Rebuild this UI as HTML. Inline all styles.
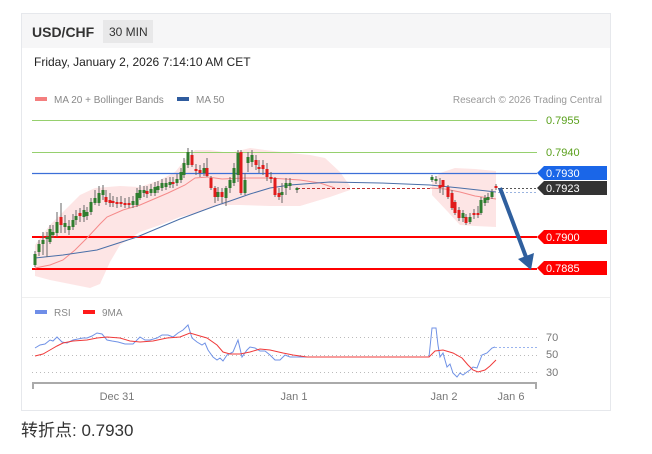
<!DOCTYPE html>
<html><head><meta charset="utf-8">
<style>
html,body{margin:0;padding:0;background:#fff;}
body{width:652px;height:454px;overflow:hidden;font-family:"Liberation Sans","Noto Sans CJK SC",sans-serif;}
svg{display:block;}
text{font-family:"Liberation Sans","Noto Sans CJK SC",sans-serif;}
.g{fill:#2f7d2f}
.r{fill:#e01c1c}
</style></head>
<body>
<svg width="652" height="454" viewBox="0 0 652 454" xmlns="http://www.w3.org/2000/svg">
<!-- card -->
<rect x="21.5" y="13.5" width="589" height="397" fill="#fff" stroke="#e6e8ec" stroke-width="1"/>
<rect x="22" y="14" width="588" height="34" fill="#f6f6f7"/>
<text x="32" y="37" font-size="14" font-weight="bold" fill="#333">USD/CHF</text>
<rect x="103" y="20" width="50" height="23" fill="#e8e8e9"/>
<text x="109" y="36" font-size="12" fill="#333">30 MIN</text>
<text x="34" y="66" font-size="12" fill="#222">Friday, January 2, 2026 7:14:10 AM CET</text>

<!-- legend -->
<rect x="35" y="97" width="12" height="4" fill="#f47f7f"/>
<text x="54" y="103" font-size="10" fill="#888">MA 20 + Bollinger Bands</text>
<rect x="177" y="97" width="12" height="4" fill="#2f5c9e"/>
<text x="196" y="103" font-size="10" fill="#888">MA 50</text>
<text x="602" y="103" font-size="10" fill="#999" text-anchor="end">Research © 2026 Trading Central</text>

<!-- bollinger bands -->
<path d="M35,245 L50,225 L65,210 L80,195 L95,188 L120,186 L140,187 L160,180 L175,172 L185,160 L195,150 L210,150 L230,153 L250,148 L265,150 L290,153 L310,155 L325,158 L340,172 L350,186 L350,190 L330,197 L300,206 L270,206 L240,205 L220,205 L200,212 L180,217 L160,225 L140,232 L120,245 L110,262 L100,284 L90,288 L70,284 L50,280 L35,276 Z" fill="#fde5e5"/>
<path d="M432,182 L440,173 L455,168 L475,169 L496,171 L496,227 L475,226 L460,225 L448,212 L432,195 Z" fill="#fde5e5"/>

<!-- horizontal levels -->
<line x1="32" y1="120.5" x2="537" y2="120.5" stroke="#96d06e" stroke-width="1"/>
<line x1="32" y1="152.5" x2="537" y2="152.5" stroke="#96d06e" stroke-width="1"/>
<line x1="32" y1="173.5" x2="537" y2="173.5" stroke="#3c6fd8" stroke-width="1.2"/>
<line x1="32" y1="237" x2="537" y2="237" stroke="#ff0000" stroke-width="2"/>
<line x1="32" y1="269" x2="537" y2="269" stroke="#ff0000" stroke-width="2"/>

<!-- MA20 -->
<path d="M35,268 L50,265 L63,260 L75,250 L88,237 L100,224 L107,217 L123,210 L140,205 L168,193 L185,185 L195,178 L208,177 L222,179 L245,178 L270,178 L300,180 L320,183 L335,188" fill="none" stroke="#f58a8a" stroke-width="1"/>
<line x1="297" y1="188.5" x2="430" y2="188.5" stroke="#c03030" stroke-width="1" stroke-dasharray="3,2"/>
<path d="M430,188 L445,189 L460,192 L475,196 L496,199" fill="none" stroke="#f58a8a" stroke-width="1"/>
<!-- MA50 -->
<path d="M35,258 L63,255 L97,250 L137,237 L180,219 L215,206 L230,201 L250,194 L270,188 L290,185 L330,182 L380,183 L430,185 L460,188 L496,192" fill="none" stroke="#4a6fa8" stroke-width="1"/>

<!-- wicks -->
<path stroke="#666" stroke-width="1" fill="none" d="M35,251V267M39,240V256M43,232V255M47,232V257M50,225V244M53,225V238M57,212V237M61,203V233M65,215V233M69,220V235M73,214V230M76,210V225M80,208V222M84,205V222M87,207V220M91,198V215M95,190V205M99,186V206M103,185V200M106,190V205M110,193V207M113,196V207M117,197V208M121,196V207M125,198V208M129,197V208M133,196V208M137,188V207M140,185V200M144,186V197M147,186V198M151,184V196M155,182V196M158,181V193M162,179V191M166,178V190M170,177V188M173,177V188M177,174V186M181,168V183M184,158V178M188,148V168M192,150V167M196,164V175M200,165V177M204,163V176M207,158V177M211,176V190M215,186V203M218,187V201M222,188V203M226,186V206M230,177V193M234,163V186M238,150V182M241,150V195M245,173V195M248,152V172M252,150V167M256,155V170M259,160V173M263,160V175M267,163V181M271,172V183M275,177V197M279,188V200M282,183V203M286,178V195M290,178V190M297,187V193M432,175V182M436,176V184M440,178V193M443,180V195M448,185V199M452,190V210M455,200V215M459,207V221M463,210V222M466,214V225M470,213V224M474,209V219M478,206V218M481,197V215M485,195V206M488,193V203M492,189V199M496,184V190"/>

<!-- bodies -->
<g>
<rect class="g" x="33.5" y="254" width="3" height="11"/>
<rect class="g" x="37.5" y="244" width="3" height="8"/>
<rect class="g" x="41.5" y="240" width="3" height="4"/>
<rect class="g" x="45.5" y="237" width="3" height="2"/>
<rect class="g" x="48.5" y="229" width="3" height="13"/>
<rect class="g" x="51.5" y="232" width="3" height="3"/>
<rect class="g" x="55.5" y="222" width="3" height="11"/>
<rect class="r" x="59.5" y="217" width="3" height="8"/>
<rect class="g" x="63.5" y="223" width="3" height="4"/>
<rect class="g" x="67.5" y="226" width="3" height="4"/>
<rect class="g" x="71.5" y="220" width="3" height="7"/>
<rect class="g" x="74.5" y="216" width="3" height="4"/>
<rect class="r" x="78.5" y="213" width="3" height="3"/>
<rect class="g" x="82.5" y="210" width="3" height="7"/>
<rect class="g" x="85.5" y="212" width="3" height="4"/>
<rect class="g" x="89.5" y="202" width="3" height="10"/>
<rect class="g" x="93.5" y="198" width="3" height="5"/>
<rect class="g" x="97.5" y="193" width="3" height="10"/>
<rect class="g" x="101.5" y="190" width="3" height="5"/>
<rect class="r" x="104.5" y="197" width="3" height="5"/>
<rect class="r" x="108.5" y="200" width="3" height="3"/>
<rect class="r" x="111.5" y="201" width="3" height="2"/>
<rect class="r" x="115.5" y="202" width="3" height="2"/>
<rect class="r" x="119.5" y="202" width="3" height="2"/>
<rect class="r" x="123.5" y="203" width="3" height="2"/>
<rect class="r" x="127.5" y="203" width="3" height="2"/>
<rect class="g" x="131.5" y="201" width="3" height="4"/>
<rect class="g" x="135.5" y="193" width="3" height="12"/>
<rect class="g" x="138.5" y="190" width="3" height="8"/>
<rect class="g" x="142.5" y="190" width="3" height="3"/>
<rect class="r" x="145.5" y="191" width="3" height="3"/>
<rect class="g" x="149.5" y="189" width="3" height="4"/>
<rect class="g" x="153.5" y="187" width="3" height="6"/>
<rect class="g" x="156.5" y="186" width="3" height="4"/>
<rect class="g" x="160.5" y="183" width="3" height="5"/>
<rect class="g" x="164.5" y="183" width="3" height="4"/>
<rect class="g" x="168.5" y="182" width="3" height="3"/>
<rect class="r" x="171.5" y="182" width="3" height="2"/>
<rect class="g" x="175.5" y="179" width="3" height="4"/>
<rect class="g" x="179.5" y="172" width="3" height="8"/>
<rect class="g" x="182.5" y="163" width="3" height="12"/>
<rect class="g" x="186.5" y="152" width="3" height="13"/>
<rect class="r" x="190.5" y="155" width="3" height="10"/>
<rect class="r" x="194.5" y="169" width="3" height="2"/>
<rect class="r" x="198.5" y="170" width="3" height="3"/>
<rect class="g" x="202.5" y="168" width="3" height="5"/>
<rect class="r" x="205.5" y="168" width="3" height="8"/>
<rect class="r" x="209.5" y="178" width="3" height="10"/>
<rect class="r" x="213.5" y="188" width="3" height="9"/>
<rect class="g" x="216.5" y="192" width="3" height="5"/>
<rect class="r" x="220.5" y="192" width="3" height="5"/>
<rect class="g" x="224.5" y="188" width="3" height="10"/>
<rect class="g" x="228.5" y="180" width="3" height="8"/>
<rect class="g" x="232.5" y="168" width="3" height="15"/>
<rect class="g" x="236.5" y="153" width="3" height="22"/>
<rect class="r" x="239.5" y="152" width="3" height="41"/>
<rect class="g" x="243.5" y="180" width="3" height="13"/>
<rect class="g" x="246.5" y="157" width="3" height="6"/>
<rect class="g" x="250.5" y="155" width="3" height="7"/>
<rect class="r" x="254.5" y="160" width="3" height="5"/>
<rect class="r" x="257.5" y="167" width="3" height="2"/>
<rect class="r" x="261.5" y="165" width="3" height="4"/>
<rect class="r" x="265.5" y="169" width="3" height="8"/>
<rect class="r" x="269.5" y="177" width="3" height="2"/>
<rect class="r" x="273.5" y="178" width="3" height="17"/>
<rect class="r" x="277.5" y="193" width="3" height="4"/>
<rect class="g" x="280.5" y="192" width="3" height="3"/>
<rect class="g" x="284.5" y="183" width="3" height="5"/>
<rect class="g" x="288.5" y="183" width="3" height="3"/>
<rect class="g" x="295.5" y="188" width="3" height="2"/>
<rect class="g" x="430.5" y="177" width="3" height="3"/>
<rect class="g" x="434.5" y="179" width="3" height="2"/>
<rect class="r" x="438.5" y="185" width="3" height="3"/>
<rect class="r" x="441.5" y="180" width="3" height="7"/>
<rect class="r" x="446.5" y="187" width="3" height="10"/>
<rect class="r" x="450.5" y="193" width="3" height="15"/>
<rect class="r" x="453.5" y="202" width="3" height="11"/>
<rect class="r" x="457.5" y="210" width="3" height="8"/>
<rect class="g" x="461.5" y="213" width="3" height="5"/>
<rect class="r" x="464.5" y="217" width="3" height="6"/>
<rect class="g" x="468.5" y="217" width="3" height="5"/>
<rect class="r" x="472.5" y="213" width="3" height="2"/>
<rect class="r" x="476.5" y="213" width="3" height="2"/>
<rect class="g" x="479.5" y="200" width="3" height="13"/>
<rect class="g" x="483.5" y="198" width="3" height="5"/>
<rect class="g" x="486.5" y="197" width="3" height="3"/>
<rect class="g" x="490.5" y="192" width="3" height="5"/>
<rect class="r" x="494.5" y="186" width="3" height="2"/>
</g>

<!-- last price dotted lines -->
<line x1="498" y1="188.5" x2="537" y2="188.5" stroke="#555" stroke-width="1" stroke-dasharray="2,2"/>
<line x1="498" y1="192.5" x2="537" y2="192.5" stroke="#9ab4e0" stroke-width="1" stroke-dasharray="2,2"/>

<!-- arrow -->
<line x1="500" y1="188" x2="526" y2="257" stroke="#2f5f9e" stroke-width="4"/>
<polygon points="518,259 534,253 531,270" fill="#2f5f9e"/>

<!-- price labels -->
<text x="546" y="124" font-size="11" fill="#5aa01c">0.7955</text>
<text x="546" y="156" font-size="11" fill="#5aa01c">0.7940</text>
<polygon points="537,173 544,166 607,166 607,180 544,180" fill="#1a66e8"/>
<text x="546" y="177" font-size="11" fill="#fff">0.7930</text>
<polygon points="537,188 544,181 607,181 607,195 544,195" fill="#333"/>
<text x="546" y="192" font-size="11" fill="#fff">0.7923</text>
<polygon points="537,237 544,230 607,230 607,244 544,244" fill="#ff0000"/>
<text x="546" y="241" font-size="11" fill="#fff">0.7900</text>
<polygon points="537,268 544,261 607,261 607,275 544,275" fill="#ff0000"/>
<text x="546" y="272" font-size="11" fill="#fff">0.7885</text>

<!-- separator -->
<line x1="22" y1="297.5" x2="610" y2="297.5" stroke="#efefef" stroke-width="1"/>

<!-- RSI panel -->
<rect x="35" y="310" width="12" height="4" fill="#6f8ee8"/>
<text x="54" y="316" font-size="10" fill="#888">RSI</text>
<rect x="83" y="310" width="12" height="4" fill="#ff1a1a"/>
<text x="102" y="316" font-size="10" fill="#888">9MA</text>

<line x1="32" y1="337.5" x2="537" y2="337.5" stroke="#bbb" stroke-width="1" stroke-dasharray="1,3"/>
<line x1="32" y1="355.5" x2="537" y2="355.5" stroke="#bbb" stroke-width="1" stroke-dasharray="1,3"/>
<line x1="32" y1="372.5" x2="537" y2="372.5" stroke="#bbb" stroke-width="1" stroke-dasharray="1,3"/>
<text x="546" y="341" font-size="11" fill="#777">70</text>
<text x="546" y="358" font-size="11" fill="#777">50</text>
<text x="546" y="376" font-size="11" fill="#777">30</text>

<path d="M35,348 L40,345 L45,344 L50,340 L53,341 L57,337 L62,342 L67,343 L73,340 L78,339 L83,338 L87,338 L92,336 L97,333 L102,334 L107,340 L112,341 L118,342 L125,344 L133,344 L140,337 L145,340 L150,340 L157,338 L162,335 L168,335 L173,337 L178,333 L183,330 L188,325 L192,338 L197,342 L202,345 L205,343 L208,350 L213,357 L217,360 L220,358 L223,361 L227,355 L233,352 L238,340 L242,357 L247,350 L250,347 L255,348 L260,351 L265,351 L270,355 L275,360 L280,360 L285,355 L290,357 L300,357 L429,357 L432,328 L436,328 L438,345 L440,357 L443,353 L447,367 L450,364 L453,373 L457,377 L460,373 L463,375 L467,372 L470,370 L473,367 L477,368 L482,355 L487,353 L492,348 L495,347" fill="none" stroke="#7092e6" stroke-width="1"/>
<line x1="495" y1="347.5" x2="537" y2="347.5" stroke="#9ab4ee" stroke-width="1" stroke-dasharray="2,2"/>
<path d="M35,356 L43,354 L50,350 L57,346 L63,343 L73,341 L87,340 L97,338 L107,337 L120,338 L130,341 L140,342 L153,341 L167,338 L180,337 L190,333 L200,336 L207,338 L217,345 L223,352 L230,354 L240,354 L250,352 L260,349 L270,350 L283,353 L293,355 L307,357 L429,357 L435,351 L443,350 L453,353 L462,358 L468,365 L473,370 L478,372 L485,370 L490,366 L496,360" fill="none" stroke="#f03a3a" stroke-width="1"/>

<!-- time axis -->
<line x1="32" y1="383" x2="537" y2="383" stroke="#aaa" stroke-width="2"/>
<line x1="33" y1="382" x2="33" y2="389" stroke="#aaa" stroke-width="2"/>
<line x1="536" y1="382" x2="536" y2="389" stroke="#aaa" stroke-width="2"/>
<text x="117" y="400" font-size="11" fill="#777" text-anchor="middle">Dec 31</text>
<text x="294" y="400" font-size="11" fill="#777" text-anchor="middle">Jan 1</text>
<text x="444" y="400" font-size="11" fill="#777" text-anchor="middle">Jan 2</text>
<text x="511" y="400" font-size="11" fill="#777" text-anchor="middle">Jan 6</text>

<!-- pivot -->
<text x="21" y="436" font-size="17" fill="#333">转折点: 0.7930</text>
</svg>
</body></html>
